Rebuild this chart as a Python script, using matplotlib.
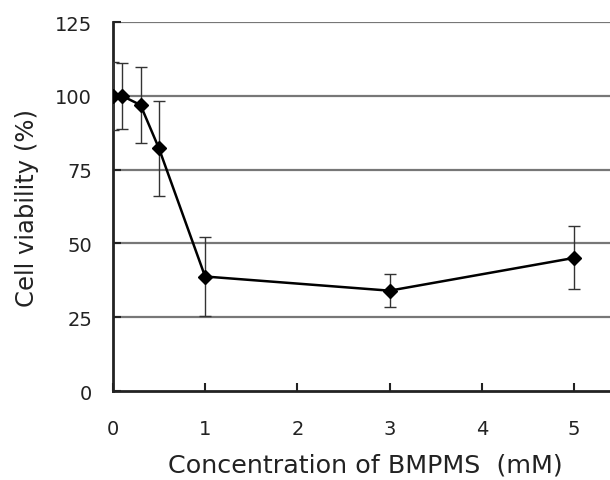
import matplotlib
matplotlib.use("Agg")
import matplotlib.pyplot as plt

plt.rcParams['font.family'] = ['DejaVu Sans', 'Noto Sans CJK JP']

conc = [0, 0.1, 0.3, 0.5, 1, 3, 5]
viability = [100, 100, 96.9, 82.2, 38.8, 34.0, 45.1]
err = [11.5, 11.2, 13.0, 16.0, 13.5, 5.7, 10.7]
xticks = [0, 1, 2, 3, 4, 5]
yticks = [0, 25, 50, 75, 100, 125]

fig = plt.figure(figsize=(6.10, 4.81), dpi=100)
ax = fig.add_axes([0.185, 0.185, 0.815, 0.767])

for y in yticks[1:]:
    ax.axhline(y, color='#777777', lw=1.6, zorder=1)

ax.errorbar(conc, viability, yerr=err, color='black', lw=1.8,
            marker='D', ms=7.5, ecolor='#333333', elinewidth=1.0,
            capsize=4, capthick=1.0, zorder=3)

ax.set_xlim(0, 5.39)
ax.set_ylim(0, 125)
ax.set_xticks(xticks)
ax.set_yticks(yticks)
ax.tick_params(direction='in', length=6, width=1.5, labelsize=14, colors='#222222')
ax.tick_params(axis='x', pad=20)
ax.tick_params(axis='y', pad=15)
for side in ['top', 'right']:
    ax.spines[side].set_visible(False)
for side in ['left', 'bottom']:
    ax.spines[side].set_linewidth(2.0)
    ax.spines[side].set_color('#222222')

ax.set_xlabel('Concentration of BMPMS  (mM)', fontsize=18.3, color='#222222')
ax.set_ylabel('Cell viability (%)', fontsize=17.5, color='#222222')
ax.xaxis.set_label_coords(0.507, -0.168)
ax.yaxis.set_label_coords(-0.149, 0.50)

fig.savefig('out.png', dpi=100)
